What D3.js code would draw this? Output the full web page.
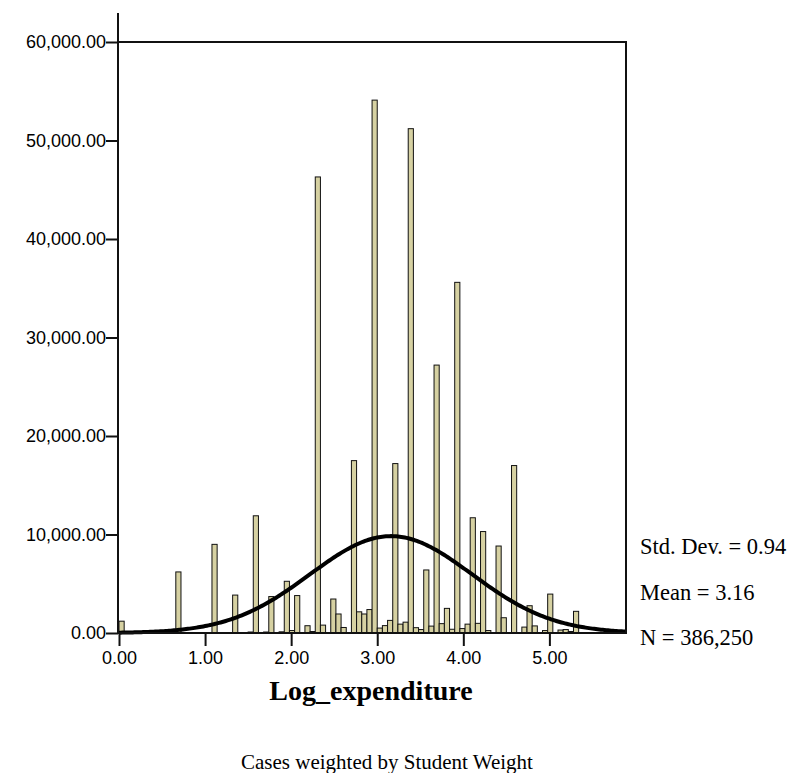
<!DOCTYPE html>
<html>
<head>
<meta charset="utf-8">
<script src="https://cdn.jsdelivr.net/npm/d3@7"></script>
<style>
  body { margin: 0; background: #fff; }
  svg { display: block; }
</style>
</head>
<body>
<div id="chart"></div>
<script>
// histogram of Log_expenditure, weighted by student weight (SPSS style)

// bin index (bin width 0.06, starting at 0) and weighted count per bin
const binIndex = [0, 11, 18, 22, 25, 26, 28, 29, 31, 32, 33, 34, 36, 37, 38, 39, 41, 42, 43,
                  45, 46, 47, 48, 49, 50, 51, 52, 53, 54, 55, 56, 57, 58, 59, 60, 61, 62, 63,
                  64, 65, 66, 67, 68, 69, 70, 71, 73, 74, 76, 78, 79, 80, 82, 83, 85, 86, 87, 88];
const binCount = [1200, 6200, 9000, 3850, 100, 11900, 100, 3700, 120, 5250, 250, 3800, 740, 150, 46300, 800, 3450, 1930, 560,
                  17500, 2150, 1930, 2380, 54100, 500, 750, 1280, 17200, 900, 1100, 51200, 540, 350, 6400, 700, 27200, 950, 2500,
                  380, 35600, 450, 900, 11700, 980, 10300, 250, 8830, 1550, 17000, 600, 2770, 720, 250, 3950, 300, 350, 150, 2200];

const binWidth = 0.06;
const xTicks = [0, 1, 2, 3, 4, 5];
const yTicks = [0, 10000, 20000, 30000, 40000, 50000, 60000];
const stats = { sd: 0.94, mean: 3.16, n: 386250 };
const statLabels = ["Std. Dev. = 0.94", "Mean = 3.16", "N = 386,250"];

const width = 797, height = 773;
const margin = { top: 42, right: 171, bottom: 140, left: 118 };
const xMax = 5.89;

const svg = d3.select("#chart").append("svg")
    .attr("width", width)
    .attr("height", height);

const x = d3.scaleLinear()
    .domain([0, xMax])
    .range([margin.left + 1, width - margin.right]);

const y = d3.scaleLinear()
    .domain([0, 60000])
    .range([height - margin.bottom, margin.top]);

const bins = binIndex.map((b, i) => ({ x0: b * binWidth, x1: (b + 1) * binWidth, v: binCount[i] }));

// bars
svg.append("g")
  .selectAll("rect")
  .data(bins)
  .join("rect")
    .attr("x", d => x(d.x0))
    .attr("y", d => y(d.v))
    .attr("width", d => x(d.x1) - x(d.x0))
    .attr("height", d => y(0) - y(d.v))
    .attr("fill", "#d6d1a2")
    .attr("stroke", "#111")
    .attr("stroke-width", 1);

// fitted normal curve
const norm = v => stats.n * binWidth / (stats.sd * Math.sqrt(2 * Math.PI)) *
    Math.exp(-0.5 * Math.pow((v - stats.mean) / stats.sd, 2));
const pts = d3.range(0, xMax + 0.001, 0.02);
svg.append("path")
    .datum(pts)
    .attr("fill", "none")
    .attr("stroke", "#000")
    .attr("stroke-width", 4)
    .attr("d", d3.line().x(d => x(d)).y(d => y(norm(d))));

// frame
svg.append("rect")
    .attr("x", margin.left)
    .attr("y", y(60000))
    .attr("width", x(xMax) - margin.left)
    .attr("height", y(0) - y(60000))
    .attr("fill", "none")
    .attr("stroke", "#111")
    .attr("stroke-width", 2);

// y axis
const yAxis = g => g
    .attr("transform", `translate(${margin.left},0)`)
    .call(d3.axisLeft(y).tickValues(yTicks).tickFormat(d3.format(",.2f")).tickSize(12).tickSizeOuter(0))
    .call(g => g.select(".domain").remove())
    .call(g => g.selectAll(".tick line").attr("stroke", "#111").attr("stroke-width", 2))
    .call(g => g.selectAll(".tick text")
        .attr("x", -12)
        .attr("font-family", "Liberation Sans, Arial, sans-serif")
        .attr("font-size", 18)
        .attr("fill", "#000"));

svg.append("g").call(yAxis);

svg.append("line")
    .attr("x1", margin.left).attr("x2", margin.left)
    .attr("y1", 13).attr("y2", y(0))
    .attr("stroke", "#111")
    .attr("stroke-width", 2);

// x axis
const xAxis = g => g
    .attr("transform", `translate(0,${y(0)})`)
    .call(d3.axisBottom(x).tickValues(xTicks).tickFormat(d3.format(".2f")).tickSize(13).tickSizeOuter(0))
    .call(g => g.select(".domain").remove())
    .call(g => g.selectAll(".tick line").attr("stroke", "#111").attr("stroke-width", 2))
    .call(g => g.selectAll(".tick text")
        .attr("y", 18)
        .attr("font-family", "Liberation Sans, Arial, sans-serif")
        .attr("font-size", 18)
        .attr("fill", "#000"));

svg.append("g").call(xAxis);

// axis title
svg.append("text")
    .attr("x", 371)
    .attr("y", 700)
    .attr("text-anchor", "middle")
    .attr("font-family", "Liberation Serif, Times New Roman, serif")
    .attr("font-weight", "bold")
    .attr("font-size", 28)
    .text("Log_expenditure");

// stats box text
svg.append("g")
  .selectAll("text")
  .data(statLabels)
  .join("text")
    .attr("x", 640)
    .attr("y", (d, i) => 554 + i * 45.5)
    .attr("font-family", "Liberation Serif, Times New Roman, serif")
    .attr("font-size", 22.5)
    .text(d => d);

// footnote
svg.append("text")
    .attr("x", 387)
    .attr("y", 769)
    .attr("text-anchor", "middle")
    .attr("font-family", "Liberation Serif, Times New Roman, serif")
    .attr("font-size", 21)
    .text("Cases weighted by Student Weight");
</script>
</body>
</html>
